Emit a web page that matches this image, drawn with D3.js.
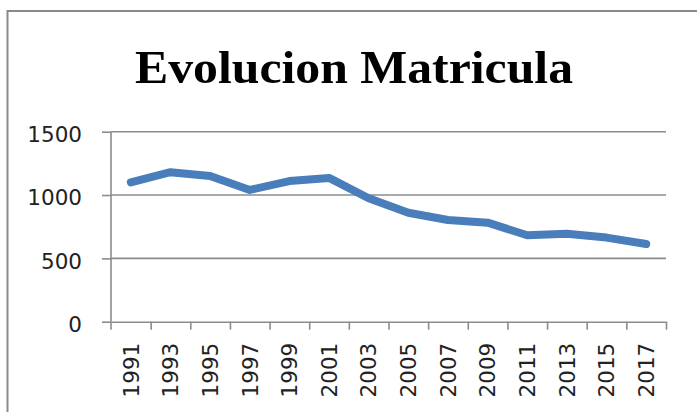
<!DOCTYPE html>
<html>
<head>
<meta charset="utf-8">
<script src="https://cdn.jsdelivr.net/npm/d3@7"></script>
<style>
  html, body { margin: 0; padding: 0; background: #fff; }
  svg { display: block; }
</style>
</head>
<body>
<svg id="chart" width="697" height="412"></svg>
<script>
const title = "Evolucion Matricula";
const years = ["1991","1993","1995","1997","1999","2001","2003","2005","2007","2009","2011","2013","2015","2017"];
const matricula = [1100, 1180, 1150, 1040, 1110, 1135, 975, 860, 803, 782, 682, 695, 664, 613];
const yTicks = [0, 500, 1000, 1500];

const svg = d3.select("#chart");
const W = 697, H = 412;
const plotLeft = 111, plotRight = 666, plotTop = 131.7, plotBottom = 321.7;

svg.append("rect").attr("width", W).attr("height", H).attr("fill", "#fff");
// outer frame (cropped at right and bottom)
svg.append("rect")
  .attr("x", 7.5).attr("y", 11).attr("width", 720).attr("height", 440)
  .attr("fill", "none").attr("stroke", "#8a8a8a").attr("stroke-width", 2);

// title
svg.append("text")
  .attr("x", 354).attr("y", 82.5)
  .attr("text-anchor", "middle")
  .attr("font-family", "'Liberation Serif', 'DejaVu Serif', serif")
  .attr("font-weight", "bold")
  .attr("font-size", 47)
  .attr("textLength", 438)
  .attr("lengthAdjust", "spacingAndGlyphs")
  .attr("fill", "#000")
  .text(title);

const x = d3.scaleBand().domain(years).range([plotLeft, plotRight]).paddingInner(0).paddingOuter(0);
const y = d3.scaleLinear().domain([0, 1500]).range([plotBottom, plotTop]);

// gridlines
svg.append("g")
  .selectAll("line")
  .data(yTicks.filter(d => d > 0))
  .join("line")
  .attr("x1", plotLeft).attr("x2", plotRight)
  .attr("y1", d => y(d)).attr("y2", d => y(d))
  .attr("stroke", "#8c8c8c").attr("stroke-width", 1.6);

// y axis
const yAxis = svg.append("g")
  .attr("transform", `translate(${plotLeft},0)`)
  .call(d3.axisLeft(y).tickValues(yTicks).tickFormat(d3.format("d")).tickSize(9).tickPadding(20));
yAxis.select(".domain").remove();
yAxis.selectAll(".tick line").attr("stroke", "#8c8c8c").attr("stroke-width", 1.6);
yAxis.selectAll(".tick text")
  .attr("font-family", "'DejaVu Sans', sans-serif")
  .attr("font-size", 21.5)
  .attr("fill", "#222")
  .attr("dy", "0.45em");
svg.append("line")
  .attr("x1", plotLeft).attr("x2", plotLeft)
  .attr("y1", plotTop).attr("y2", plotBottom + 8)
  .attr("stroke", "#8c8c8c").attr("stroke-width", 1.6);

// x axis line + boundary ticks
const xb = d3.scaleLinear().domain([0, years.length]).range([plotLeft, plotRight]);
const xTickAxis = svg.append("g")
  .attr("transform", `translate(0,${plotBottom})`)
  .call(d3.axisBottom(xb).tickValues(d3.range(1, years.length + 1)).tickSize(8).tickSizeOuter(0).tickFormat(""));
xTickAxis.select(".domain").attr("stroke", "#8c8c8c").attr("stroke-width", 1.6);
xTickAxis.selectAll(".tick line").attr("stroke", "#8c8c8c").attr("stroke-width", 1.6);

// x labels (rotated)
const xAxis = svg.append("g")
  .attr("transform", `translate(0,${plotBottom})`)
  .call(d3.axisBottom(x).tickSize(0).tickPadding(0));
xAxis.select(".domain").remove();
xAxis.selectAll(".tick text")
  .attr("font-family", "'DejaVu Sans', sans-serif")
  .attr("font-size", 21.5)
  .attr("fill", "#222")
  .attr("text-anchor", "end")
  .attr("transform", "translate(0,21) rotate(-90)")
  .attr("x", 0).attr("y", 0)
  .attr("dy", "0.36em");

// line
const line = d3.line()
  .x((d, i) => x(years[i]) + x.bandwidth() / 2)
  .y(d => y(d));
svg.append("path")
  .datum(matricula)
  .attr("d", line)
  .attr("fill", "none")
  .attr("stroke", "#4a7ebb")
  .attr("stroke-width", 8)
  .attr("stroke-linejoin", "round")
  .attr("stroke-linecap", "round");
</script>
</body>
</html>
